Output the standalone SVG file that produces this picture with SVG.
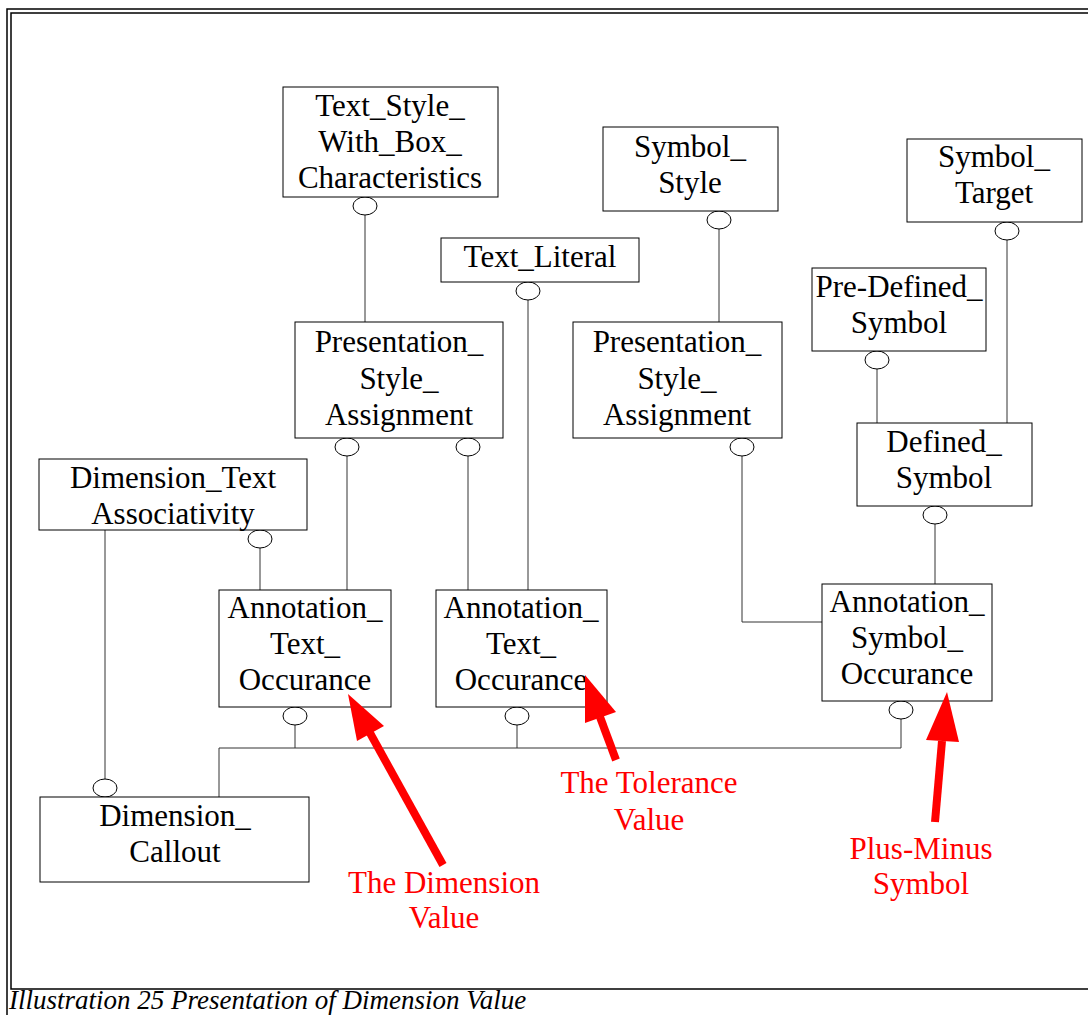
<svg xmlns="http://www.w3.org/2000/svg" width="1088" height="1015" viewBox="0 0 1088 1015">
<style>
.frame{fill:none;stroke:#000;stroke-width:1.5}
.box{fill:#fff;stroke:#000;stroke-width:1}
.t{font-family:"Liberation Serif","Times New Roman",serif;font-size:31px;fill:#000;text-anchor:middle}
.r{font-family:"Liberation Serif","Times New Roman",serif;font-size:31px;fill:#ff0000;text-anchor:middle}
.cap{font-family:"Liberation Serif","Times New Roman",serif;font-size:27px;font-style:italic;fill:#000}
.c{fill:none;stroke:#333;stroke-width:1}
.o{fill:#fff;stroke:#000;stroke-width:1}
.shaft{stroke:#ff0000;stroke-width:8;fill:none}
.head{fill:#ff0000;stroke:none}
</style>
<rect width="1088" height="1015" fill="#fff"/>
<g id="frame">
<polyline class="frame" points="1088,9 7,9 7,1015"/>
<polyline class="frame" points="1088,13 11,13 11,989 1088,989"/>
</g>
<g id="connectors">
<line class="c" x1="365" y1="215" x2="365" y2="322"/>
<line class="c" x1="528" y1="300" x2="528" y2="590"/>
<line class="c" x1="719" y1="229" x2="719" y2="322"/>
<line class="c" x1="1007" y1="240" x2="1007" y2="423"/>
<line class="c" x1="877" y1="369" x2="877" y2="423"/>
<line class="c" x1="935" y1="524" x2="935" y2="584"/>
<line class="c" x1="347" y1="456" x2="347" y2="590"/>
<line class="c" x1="468" y1="456" x2="468" y2="590"/>
<polyline class="c" points="742,456 742,622 822,622"/>
<line class="c" x1="260" y1="548" x2="260" y2="590"/>
<line class="c" x1="105" y1="530" x2="105" y2="779"/>
<line class="c" x1="295" y1="725" x2="295" y2="748"/>
<line class="c" x1="517" y1="725" x2="517" y2="748"/>
<line class="c" x1="901" y1="719" x2="901" y2="748"/>
<polyline class="c" points="219,797 219,748 901,748"/>
<ellipse class="o" cx="365" cy="206" rx="12" ry="9"/>
<ellipse class="o" cx="528" cy="291" rx="12" ry="9"/>
<ellipse class="o" cx="719" cy="220" rx="12" ry="9"/>
<ellipse class="o" cx="1007" cy="231" rx="12" ry="9"/>
<ellipse class="o" cx="877" cy="360" rx="12" ry="9"/>
<ellipse class="o" cx="935" cy="515" rx="12" ry="9"/>
<ellipse class="o" cx="347" cy="447" rx="12" ry="9"/>
<ellipse class="o" cx="468" cy="447" rx="12" ry="9"/>
<ellipse class="o" cx="742" cy="447" rx="12" ry="9"/>
<ellipse class="o" cx="260" cy="539" rx="12" ry="9"/>
<ellipse class="o" cx="105" cy="788" rx="12" ry="9"/>
<ellipse class="o" cx="295" cy="716" rx="12" ry="9"/>
<ellipse class="o" cx="517" cy="716" rx="12" ry="9"/>
<ellipse class="o" cx="901" cy="710" rx="12" ry="9"/>
</g>
<g id="text-style-with-box">
<rect class="box" x="283" y="87" width="215" height="110"/>
<text class="t" x="390" y="116">Text_Style_</text>
<text class="t" x="390" y="152">With_Box_</text>
<text class="t" x="390" y="188">Characteristics</text>
</g>
<g id="text-literal">
<rect class="box" x="441" y="238" width="198" height="44"/>
<text class="t" x="540" y="267">Text_Literal</text>
</g>
<g id="symbol-style">
<rect class="box" x="603" y="127" width="175" height="84"/>
<text class="t" x="690" y="157">Symbol_</text>
<text class="t" x="690" y="193">Style</text>
</g>
<g id="symbol-target">
<rect class="box" x="907" y="139" width="175" height="83"/>
<text class="t" x="994" y="167">Symbol_</text>
<text class="t" x="994" y="203">Target</text>
</g>
<g id="pre-defined-symbol">
<rect class="box" x="812" y="268" width="174" height="83"/>
<text class="t" x="899" y="297">Pre-Defined_</text>
<text class="t" x="899" y="333">Symbol</text>
</g>
<g id="defined-symbol">
<rect class="box" x="857" y="423" width="175" height="83"/>
<text class="t" x="944" y="452">Defined_</text>
<text class="t" x="944" y="488">Symbol</text>
</g>
<g id="presentation-style-assignment-1">
<rect class="box" x="295" y="322" width="208" height="116"/>
<text class="t" x="399" y="352">Presentation_</text>
<text class="t" x="399" y="389">Style_</text>
<text class="t" x="399" y="425">Assignment</text>
</g>
<g id="presentation-style-assignment-2">
<rect class="box" x="573" y="322" width="209" height="116"/>
<text class="t" x="677" y="352">Presentation_</text>
<text class="t" x="677" y="389">Style_</text>
<text class="t" x="677" y="425">Assignment</text>
</g>
<g id="dimension-text-associativity">
<rect class="box" x="39" y="459" width="268" height="71"/>
<text class="t" x="173" y="488">Dimension_Text</text>
<text class="t" x="173" y="524">Associativity</text>
</g>
<g id="annotation-text-occurance-1">
<rect class="box" x="219" y="590" width="172" height="117"/>
<text class="t" x="305" y="618">Annotation_</text>
<text class="t" x="305" y="654">Text_</text>
<text class="t" x="305" y="690">Occurance</text>
</g>
<g id="annotation-text-occurance-2">
<rect class="box" x="436" y="590" width="171" height="117"/>
<text class="t" x="521" y="618">Annotation_</text>
<text class="t" x="521" y="654">Text_</text>
<text class="t" x="521" y="690">Occurance</text>
</g>
<g id="annotation-symbol-occurance">
<rect class="box" x="822" y="584" width="170" height="117"/>
<text class="t" x="907" y="612">Annotation_</text>
<text class="t" x="907" y="648">Symbol_</text>
<text class="t" x="907" y="684">Occurance</text>
</g>
<g id="dimension-callout">
<rect class="box" x="40" y="797" width="269" height="85"/>
<text class="t" x="175" y="826">Dimension_</text>
<text class="t" x="175" y="862">Callout</text>
</g>
<g id="callouts">
<line class="shaft" x1="370" y1="733" x2="443" y2="865"/>
<polygon class="head" points="348,694 357,741 384,726"/>
<line class="shaft" x1="600" y1="717" x2="616" y2="760"/>
<polygon class="head" points="585,675 585,723 616,712"/>
<line class="shaft" x1="942" y1="741" x2="935" y2="822"/>
<polygon class="head" points="947,692 926,740 959,742"/>
<text class="r" x="444" y="893">The Dimension</text>
<text class="r" x="444" y="928">Value</text>
<text class="r" x="649" y="793">The Tolerance</text>
<text class="r" x="649" y="830">Value</text>
<text class="r" x="921" y="859">Plus-Minus</text>
<text class="r" x="921" y="894">Symbol</text>
</g>
<text class="cap" x="9" y="1009">Illustration 25 Presentation of Dimension Value</text>
</svg>
